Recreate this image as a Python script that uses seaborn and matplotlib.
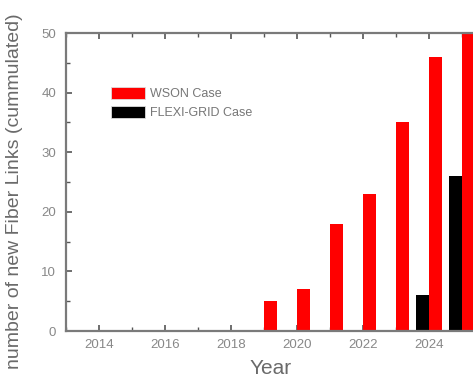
import matplotlib
matplotlib.use("Agg")
import matplotlib.pyplot as plt
import seaborn as sns
import pandas as pd
from matplotlib.patches import Patch
from matplotlib.ticker import MultipleLocator, FixedLocator

years = [2019, 2020, 2021, 2022, 2023, 2024, 2025]
wson = [5, 7, 18, 23, 35, 46, 50]
flexi = [0, 0, 0, 0, 0, 6, 26]
year_ticks = [2014, 2016, 2018, 2020, 2022, 2024]
series_names = ["WSON Case", "FLEXI-GRID Case"]
series_colors = {"WSON Case": "#ff0000", "FLEXI-GRID Case": "#000000"}

df = pd.DataFrame({
    "Year": years * 2,
    "Links": wson + flexi,
    "Case": ["WSON Case"] * len(years) + ["FLEXI-GRID Case"] * len(years),
})

sns.set_theme(style="white")
plt.rcParams["font.family"] = ["Liberation Sans", "DejaVu Sans"]

fig = plt.figure(figsize=(4.73, 3.83), dpi=100)
ax = fig.add_axes([66/473, 1-331/383, 429/473, 298/383])

sns.barplot(data=df, x="Year", y="Links", hue="Case", native_scale=True,
            hue_order=["FLEXI-GRID Case", "WSON Case"], palette=series_colors,
            width=0.8, linewidth=0, saturation=1, ax=ax, legend=False, errorbar=None)

ax.set_xlim(2013, 2026)
ax.set_ylim(0, 50)
ax.xaxis.set_major_locator(FixedLocator(year_ticks))
ax.xaxis.set_minor_locator(MultipleLocator(1))
ax.yaxis.set_major_locator(MultipleLocator(10))
ax.yaxis.set_minor_locator(MultipleLocator(5))

gray = "#7a7a7a"
for s in ["left", "bottom", "top"]:
    ax.spines[s].set_color(gray)
    ax.spines[s].set_linewidth(1.6)
ax.spines["right"].set_visible(False)
ax.tick_params(which="both", direction="in", top=True, bottom=True, left=True, right=False,
               color="#555555", labelcolor="#888888", labelsize=9.5)
ax.tick_params(which="major", length=4, width=1.2)
ax.tick_params(which="minor", length=3, width=1.0)
ax.tick_params(axis="x", pad=6)
ax.tick_params(axis="y", pad=7)

ax.set_xlabel("Year", fontsize=15, color="#6a6a6a")
ax.set_ylabel("number of new Fiber Links (cummulated)", fontsize=14, color="#6a6a6a")
ax.xaxis.set_label_coords(0.476, -0.095)
ax.yaxis.set_label_coords(-0.100, 0.468)

handles = [Patch(facecolor=series_colors[n], edgecolor="#dddddd", linewidth=0.6) for n in series_names]
ax.legend(handles, series_names, loc="upper left", bbox_to_anchor=(0.105, 0.82),
          frameon=False, fontsize=9, handlelength=2.7, handleheight=1.1,
          handletextpad=0.4, labelspacing=0.45, borderpad=0, borderaxespad=0,
          labelcolor="#777777")

fig.savefig("out.png", dpi=100)
